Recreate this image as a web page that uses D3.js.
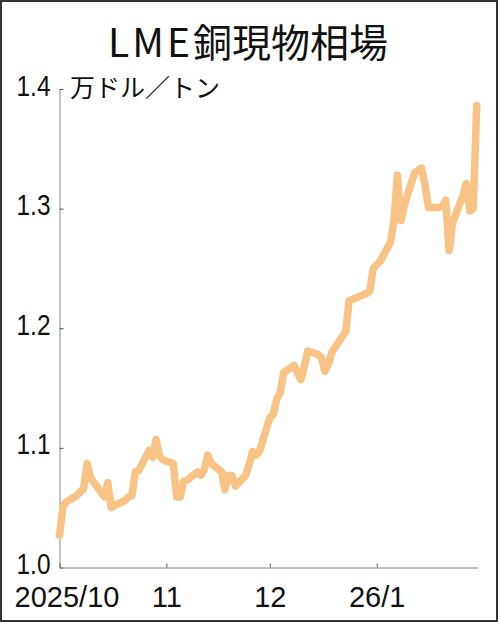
<!DOCTYPE html>
<html>
<head>
<meta charset="utf-8">
<script src="https://cdn.jsdelivr.net/npm/d3@7"></script>
<style>
html,body{margin:0;padding:0;background:#fff;}
svg{display:block;}
</style>
</head>
<body>
<svg id="chart" width="500" height="625"></svg>
<script>
// ---- data ----
const titleText = "LME銅現物相場";
const unitText = "万ドル／トン";
const dates = [
 "2025-10-01","2025-10-02","2025-10-03","2025-10-06","2025-10-07","2025-10-08","2025-10-09","2025-10-10",
 "2025-10-13","2025-10-14","2025-10-15","2025-10-16","2025-10-17","2025-10-20","2025-10-21","2025-10-22",
 "2025-10-23","2025-10-24","2025-10-27","2025-10-28","2025-10-29","2025-10-30","2025-10-31",
 "2025-11-03","2025-11-04","2025-11-05","2025-11-06","2025-11-07","2025-11-10","2025-11-11","2025-11-12",
 "2025-11-13","2025-11-14","2025-11-17","2025-11-18","2025-11-19","2025-11-20","2025-11-21","2025-11-24",
 "2025-11-25","2025-11-26","2025-11-27","2025-11-28",
 "2025-12-01","2025-12-02","2025-12-03","2025-12-04","2025-12-05","2025-12-08","2025-12-09","2025-12-10",
 "2025-12-11","2025-12-12","2025-12-15","2025-12-16","2025-12-17","2025-12-18","2025-12-19","2025-12-22",
 "2025-12-23","2025-12-24","2025-12-29","2025-12-30","2025-12-31",
 "2026-01-02","2026-01-05","2026-01-06","2026-01-07","2026-01-08","2026-01-09","2026-01-12","2026-01-13",
 "2026-01-14","2026-01-15","2026-01-16","2026-01-19","2026-01-20","2026-01-21","2026-01-22","2026-01-23",
 "2026-01-26","2026-01-27","2026-01-28","2026-01-29","2026-01-30"
];
const values = [
 1.027,1.051,1.055,1.060,1.063,1.066,1.087,1.075,
 1.063,1.059,1.071,1.050,1.052,1.056,1.059,1.060,
 1.080,1.081,1.098,1.092,1.107,1.093,1.090,
 1.087,1.059,1.059,1.072,1.073,1.080,1.077,1.082,
 1.094,1.087,1.080,1.065,1.077,1.077,1.068,1.077,
 1.086,1.097,1.094,1.097,
 1.125,1.128,1.141,1.146,1.163,1.169,1.163,1.157,
 1.168,1.181,1.178,1.175,1.164,1.170,1.180,1.193,
 1.197,1.223,1.229,1.231,1.250,
 1.256,1.272,1.290,1.328,1.290,1.303,1.330,1.332,
 1.334,1.320,1.301,1.301,1.302,1.307,1.265,1.288,
 1.311,1.321,1.298,1.300,1.386
];
const yTicks = [1.0, 1.1, 1.2, 1.3, 1.4];
const xTickDates = ["2025-10-01","2025-11-01","2025-12-01","2026-01-01"];
const xTickLabels = ["2025/10","11","12","26/1"];

// ---- drawing ----
const parse = d3.timeParse("%Y-%m-%d");
const data = dates.map((d,i)=>({date:parse(d), value:values[i]}));
const svg = d3.select("#chart");
const numFont = "'Liberation Sans',Arial,sans-serif";
const jpFont = "'Noto Sans CJK JP','Noto Sans',sans-serif";

svg.append("rect").attr("x",1).attr("y",1).attr("width",496).attr("height",620)
  .attr("fill","#fff").attr("stroke","#333").attr("stroke-width",2);

const x = d3.scaleTime()
  .domain([parse("2025-10-01"), d3.timeHour.offset(parse("2026-01-30"), 9)])
  .range([59.5, 478]);
const y = d3.scaleLinear().domain([1.0, 1.4]).range([567.5, 89]);

// title
const title = svg.append("text").attr("x",248).attr("y",57).attr("text-anchor","middle")
  .attr("font-family",jpFont).attr("font-size",39).attr("fill","#111");
title.append("tspan").attr("letter-spacing","3px").text(titleText.slice(0,3));
title.append("tspan").text(titleText.slice(3));

// unit
svg.append("text").attr("x",70).attr("y",97).attr("font-family",jpFont)
  .attr("font-size",25).attr("fill","#111").text(unitText);

// y axis
const yAxis = svg.append("g").attr("transform","translate(59.5,0)")
  .call(d3.axisLeft(y).tickValues(yTicks).tickSizeInner(-4).tickSizeOuter(0)
    .tickPadding(9).tickFormat(d3.format(".1f")));
yAxis.select(".domain").attr("stroke","#888");
yAxis.selectAll(".tick line").attr("stroke","#555");
yAxis.selectAll(".tick text").attr("dy",null).attr("y",6)
  .attr("font-family",numFont).attr("font-size",29).attr("fill","#111")
  .attr("textLength",34).attr("lengthAdjust","spacingAndGlyphs");

// x axis
const xAxis = svg.append("g").attr("transform","translate(0,567.5)")
  .call(d3.axisBottom(x).tickValues(xTickDates.map(parse)).tickSizeInner(-4).tickSizeOuter(0)
    .tickFormat((d,i)=>xTickLabels[i]));
xAxis.select(".domain").attr("stroke","#888");
xAxis.selectAll(".tick line").attr("stroke","#555");
xAxis.selectAll(".tick text").attr("dy",null).attr("y",39.5)
  .attr("font-family",numFont).attr("font-size",29).attr("fill","#111")
  .attr("dx",(d,i)=> i===0 ? 7 : 0);

// line
const line = d3.line().x(d=>x(d.date)).y(d=>y(d.value));
svg.append("path").datum(data).attr("d",line).attr("fill","none")
  .attr("stroke","#F8C385").attr("stroke-width",7.5)
  .attr("stroke-linejoin","round").attr("stroke-linecap","round");
</script>
</body>
</html>
